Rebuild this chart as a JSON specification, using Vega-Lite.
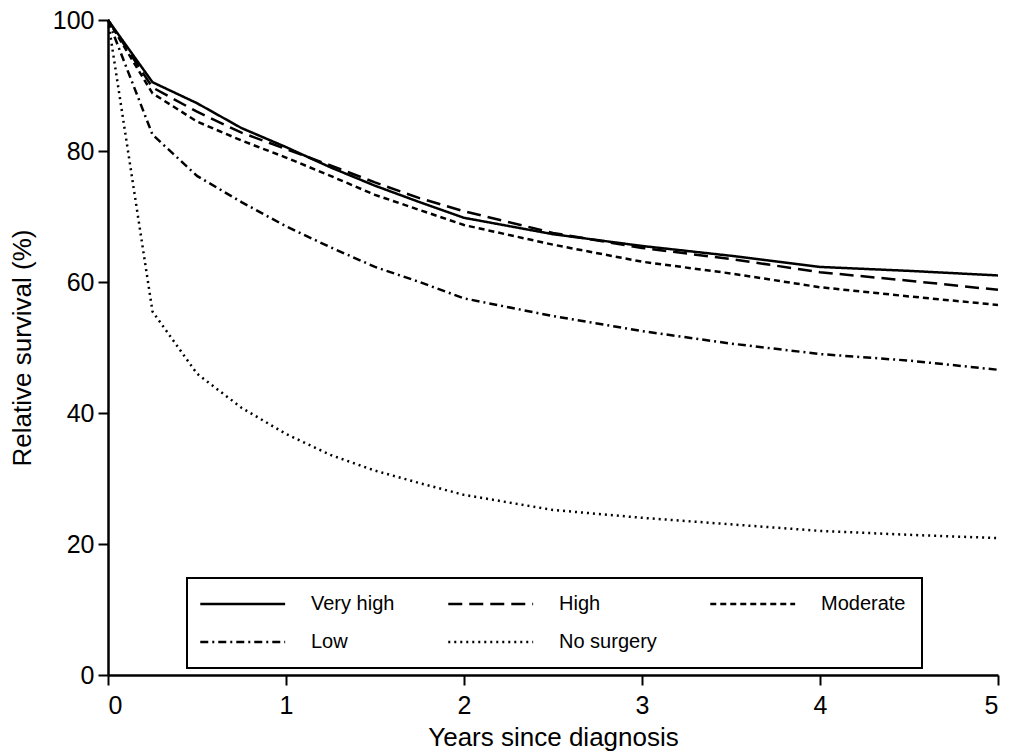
{
  "$schema": "https://vega.github.io/schema/vega-lite/v6.json",
  "width": 890,
  "height": 655,
  "autosize": {"type": "none"},
  "padding": {"left": 108, "top": 20, "right": 11, "bottom": 77},
  "background": "white",
  "config": {
    "view": {"stroke": null},
    "font": "Liberation Sans",
    "legend": {"strokeWidth": 2},
    "axis": {
      "grid": false,
      "domainColor": "black",
      "domainWidth": 2.5,
      "tickColor": "black",
      "tickWidth": 2,
      "tickSize": 10,
      "labelFont": "Liberation Sans",
      "labelFontSize": 25,
      "labelColor": "black",
      "titleFont": "Liberation Sans",
      "titleFontSize": 26,
      "titleFontWeight": "normal",
      "titleColor": "black"
    }
  },
  "data": {
    "values": [
      {"group": "Very high", "t": 0, "s": 100},
      {"group": "Very high", "t": 0.25, "s": 90.5},
      {"group": "Very high", "t": 0.5, "s": 87.3},
      {"group": "Very high", "t": 0.75, "s": 83.5},
      {"group": "Very high", "t": 1, "s": 80.6},
      {"group": "Very high", "t": 1.25, "s": 77.5},
      {"group": "Very high", "t": 1.5, "s": 74.7},
      {"group": "Very high", "t": 1.75, "s": 72.2},
      {"group": "Very high", "t": 2, "s": 69.8},
      {"group": "Very high", "t": 2.5, "s": 67.3},
      {"group": "Very high", "t": 3, "s": 65.5},
      {"group": "Very high", "t": 3.5, "s": 64.0},
      {"group": "Very high", "t": 4, "s": 62.3},
      {"group": "Very high", "t": 4.5, "s": 61.7},
      {"group": "Very high", "t": 5, "s": 61.0},
      {"group": "High", "t": 0, "s": 100},
      {"group": "High", "t": 0.25, "s": 89.7},
      {"group": "High", "t": 0.5, "s": 86.0},
      {"group": "High", "t": 0.75, "s": 82.8},
      {"group": "High", "t": 1, "s": 80.3},
      {"group": "High", "t": 1.25, "s": 77.8},
      {"group": "High", "t": 1.5, "s": 75.2},
      {"group": "High", "t": 1.75, "s": 72.8},
      {"group": "High", "t": 2, "s": 70.8},
      {"group": "High", "t": 2.5, "s": 67.5},
      {"group": "High", "t": 3, "s": 65.2},
      {"group": "High", "t": 3.5, "s": 63.5},
      {"group": "High", "t": 4, "s": 61.5},
      {"group": "High", "t": 4.5, "s": 60.2},
      {"group": "High", "t": 5, "s": 58.8},
      {"group": "Moderate", "t": 0, "s": 100},
      {"group": "Moderate", "t": 0.25, "s": 88.8},
      {"group": "Moderate", "t": 0.5, "s": 84.5},
      {"group": "Moderate", "t": 0.75, "s": 81.6},
      {"group": "Moderate", "t": 1, "s": 79.0},
      {"group": "Moderate", "t": 1.25, "s": 76.2},
      {"group": "Moderate", "t": 1.5, "s": 73.3},
      {"group": "Moderate", "t": 1.75, "s": 71.0},
      {"group": "Moderate", "t": 2, "s": 68.7},
      {"group": "Moderate", "t": 2.5, "s": 65.7},
      {"group": "Moderate", "t": 3, "s": 63.1},
      {"group": "Moderate", "t": 3.5, "s": 61.3},
      {"group": "Moderate", "t": 4, "s": 59.2},
      {"group": "Moderate", "t": 4.5, "s": 57.8},
      {"group": "Moderate", "t": 5, "s": 56.5},
      {"group": "Low", "t": 0, "s": 100},
      {"group": "Low", "t": 0.25, "s": 82.5},
      {"group": "Low", "t": 0.5, "s": 76.2},
      {"group": "Low", "t": 0.75, "s": 72.2},
      {"group": "Low", "t": 1, "s": 68.5},
      {"group": "Low", "t": 1.25, "s": 65.3},
      {"group": "Low", "t": 1.5, "s": 62.3},
      {"group": "Low", "t": 1.75, "s": 60.0},
      {"group": "Low", "t": 2, "s": 57.5},
      {"group": "Low", "t": 2.5, "s": 54.8},
      {"group": "Low", "t": 3, "s": 52.5},
      {"group": "Low", "t": 3.5, "s": 50.6},
      {"group": "Low", "t": 4, "s": 49.0},
      {"group": "Low", "t": 4.5, "s": 48.0},
      {"group": "Low", "t": 5, "s": 46.6},
      {"group": "No surgery", "t": 0, "s": 100},
      {"group": "No surgery", "t": 0.25, "s": 55.5},
      {"group": "No surgery", "t": 0.5, "s": 46.0},
      {"group": "No surgery", "t": 0.75, "s": 40.8},
      {"group": "No surgery", "t": 1, "s": 36.8},
      {"group": "No surgery", "t": 1.25, "s": 33.6},
      {"group": "No surgery", "t": 1.5, "s": 31.2},
      {"group": "No surgery", "t": 1.75, "s": 29.3},
      {"group": "No surgery", "t": 2, "s": 27.5},
      {"group": "No surgery", "t": 2.5, "s": 25.2},
      {"group": "No surgery", "t": 3, "s": 24.0},
      {"group": "No surgery", "t": 3.5, "s": 23.0},
      {"group": "No surgery", "t": 4, "s": 22.0},
      {"group": "No surgery", "t": 4.5, "s": 21.4},
      {"group": "No surgery", "t": 5, "s": 20.9}
    ]
  },
  "mark": {"type": "line", "color": "black", "strokeWidth": 2.5, "strokeCap": "butt"},
  "encoding": {
    "x": {
      "field": "t",
      "type": "quantitative",
      "scale": {"domain": [0, 5], "nice": false},
      "axis": {"values": [0, 1, 2, 3, 4, 5], "title": "Years since diagnosis", "labelPadding": 8, "titlePadding": 6}
    },
    "y": {
      "field": "s",
      "type": "quantitative",
      "scale": {"domain": [0, 100], "nice": false},
      "axis": {"values": [0, 20, 40, 60, 80, 100], "title": "Relative survival (%)", "labelPadding": 4, "titlePadding": 17}
    },
    "strokeDash": {
      "field": "group",
      "type": "nominal",
      "scale": {
        "domain": ["Very high", "High", "Moderate", "Low", "No surgery"],
        "range": [[1, 0], [14, 7], [6, 4], [8, 4, 2, 4], [2, 4]]
      },
      "legend": {
        "title": null,
        "orient": "none",
        "legendX": 79,
        "legendY": 558,
        "columns": 3,
        "direction": "horizontal",
        "gridAlign": "each",
        "strokeColor": "black",
        "padding": 16,
        "columnPadding": 48,
        "rowPadding": 18,
        "symbolType": "M-3,0H17",
        "symbolSize": 72,
        "symbolStrokeWidth": 2.5,
        "symbolStrokeColor": "black",
        "labelFont": "Liberation Sans",
        "labelFontSize": 20,
        "labelColor": "black",
        "labelOffset": 88,
        "labelLimit": 200
      }
    }
  }
}
